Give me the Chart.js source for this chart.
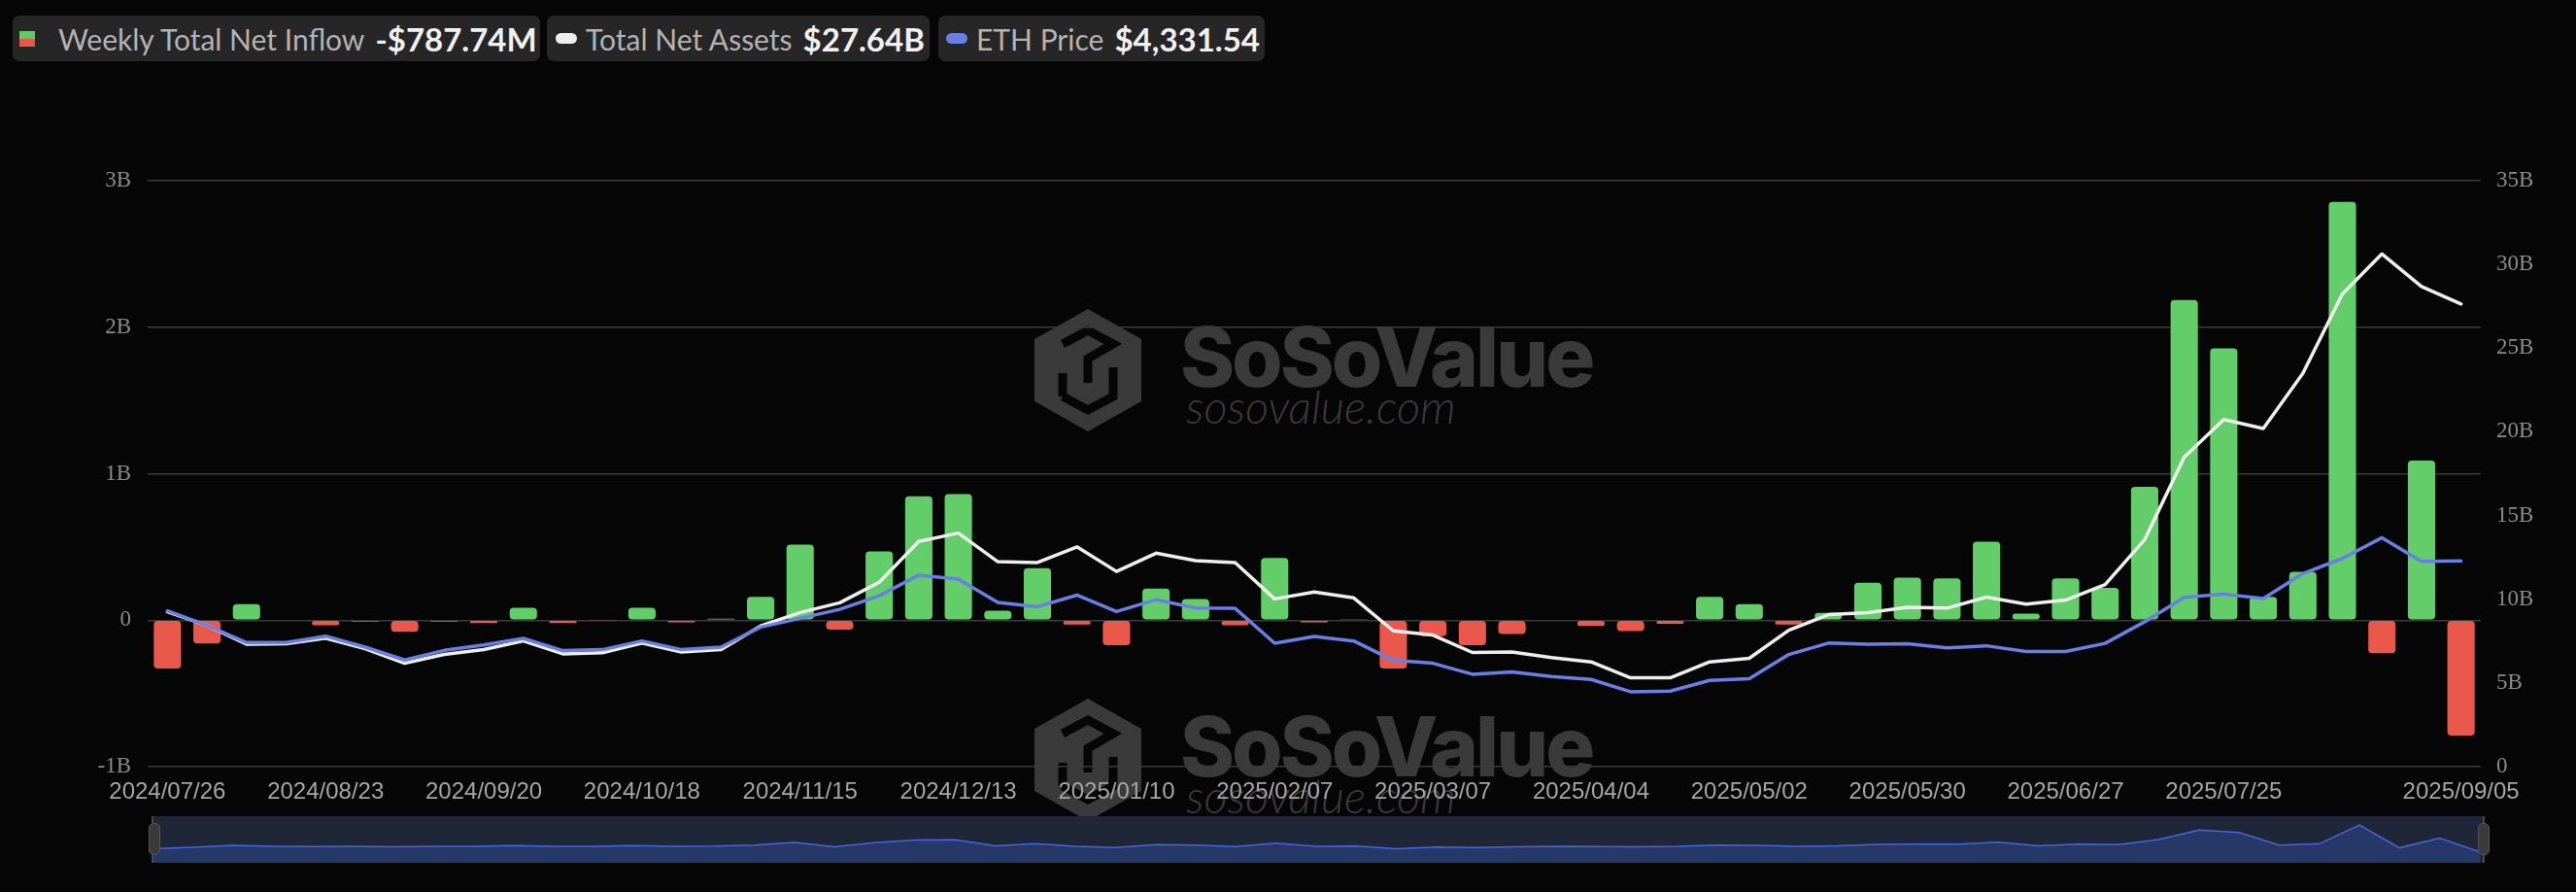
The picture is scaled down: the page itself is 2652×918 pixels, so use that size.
<!DOCTYPE html>
<html><head><meta charset="utf-8">
<script src="https://cdn.jsdelivr.net/npm/chart.js@4.4.1/dist/chart.umd.min.js"></script>
<style>
html,body{margin:0;padding:0;background:#060606;width:2652px;height:918px;overflow:hidden;}
#wrap{position:relative;width:2652px;height:918px;}
.lg{position:absolute;top:16px;height:47px;background:#262626;border-radius:7px;display:flex;align-items:center;font-family:Lato,sans-serif;white-space:nowrap;box-sizing:border-box;}
.lg .t{color:#b3b3b3;font-size:30px;}
.lg .v{color:#f0f0f0;font-size:33px;font-weight:700;margin-left:11px;}
.ico2{width:16px;height:16px;margin-right:24px;background:linear-gradient(#62c968 0 50%,#e8584a 50% 100%);}
.pill{width:22px;height:11px;border-radius:6px;margin-right:9px;}
.wm{position:absolute;z-index:0;color:#3a3a3a;white-space:nowrap;}
.wm1{font-family:Inter,'Open Sans',sans-serif;font-weight:800;font-size:85px;letter-spacing:-3px;line-height:1;}
.wm2{font-family:Lato,sans-serif;font-style:italic;font-weight:300;font-size:47px;line-height:1;}
canvas{position:absolute;z-index:1;}
#navbg{position:absolute;left:157px;top:840px;width:2401px;height:48px;background:#1f2638;z-index:0;}
.hbar{position:absolute;top:840px;width:2px;height:48px;background:#4a4a4a;z-index:2;}
.hnd{position:absolute;top:847px;width:12px;height:33px;background:#3a3a3a;border:1px solid #555;border-radius:5px;z-index:3;box-sizing:border-box;}
</style>
</head>
<body>
<div id="wrap">
  <div class="lg" style="left:13px;width:543px;padding-left:7px;"><div class="ico2"></div><span class="t">Weekly Total Net Inflow</span><span class="v">-$787.74M</span></div>
  <div class="lg" style="left:563px;width:394px;padding-left:9px;"><div class="pill" style="background:#eeeeee"></div><span class="t">Total Net Assets</span><span class="v">$27.64B</span></div>
  <div class="lg" style="left:966px;width:336px;padding-left:8px;"><div class="pill" style="background:#6b7fe3"></div><span class="t">ETH Price</span><span class="v">$4,331.54</span></div>

  <svg class="wm" style="left:1060px;top:314px;" width="120" height="134" viewBox="0 0 120 134">
    <polygon points="60,4 115,35 115,99 60,130 5,99 5,35" fill="#3a3a3a"/>
    <polyline points="34,40 60,26 86,40 60,55 60,80" fill="none" stroke="#060606" stroke-width="9"/>
    <polyline points="34,94 60,108 86,94 86,64" fill="none" stroke="#060606" stroke-width="9"/>
    <polyline points="34,70 34,94" fill="none" stroke="#060606" stroke-width="9"/>
  </svg>
  <div class="wm wm1" style="left:1215px;top:325px;">SoSoValue</div>
  <div class="wm wm2" style="left:1221px;top:395px;">sosovalue.com</div>

  <svg class="wm" style="left:1060px;top:715px;" width="120" height="134" viewBox="0 0 120 134">
    <polygon points="60,4 115,35 115,99 60,130 5,99 5,35" fill="#3a3a3a"/>
    <polyline points="34,40 60,26 86,40 60,55 60,80" fill="none" stroke="#060606" stroke-width="9"/>
    <polyline points="34,94 60,108 86,94 86,64" fill="none" stroke="#060606" stroke-width="9"/>
    <polyline points="34,70 34,94" fill="none" stroke="#060606" stroke-width="9"/>
  </svg>
  <div class="wm wm1" style="left:1215px;top:726px;">SoSoValue</div>
  <div class="wm wm2" style="left:1221px;top:796px;">sosovalue.com</div>

  <canvas id="main" width="2652" height="840" style="left:0;top:0;"></canvas>
  <div id="navbg"></div>
  <canvas id="nav" width="2396" height="48" style="left:157px;top:840px;"></canvas>
  <div class="hbar" style="left:156px;"></div>
  <div class="hbar" style="left:2556px;"></div>
  <div class="hnd" style="left:153px;"></div>
  <div class="hnd" style="left:2551px;"></div>
</div>
<script>
const categories = [
 '2024/07/26','2024/08/02','2024/08/09','2024/08/16','2024/08/23','2024/08/30','2024/09/06','2024/09/13','2024/09/20','2024/09/27',
 '2024/10/04','2024/10/11','2024/10/18','2024/10/25','2024/11/01','2024/11/08','2024/11/15','2024/11/22','2024/11/29','2024/12/06',
 '2024/12/13','2024/12/20','2024/12/27','2025/01/03','2025/01/10','2025/01/17','2025/01/24','2025/01/31','2025/02/07','2025/02/14',
 '2025/02/21','2025/02/28','2025/03/07','2025/03/14','2025/03/21','2025/03/28','2025/04/04','2025/04/11','2025/04/18','2025/04/25',
 '2025/05/02','2025/05/09','2025/05/16','2025/05/23','2025/05/30','2025/06/06','2025/06/13','2025/06/20','2025/06/27','2025/07/04',
 '2025/07/11','2025/07/18','2025/07/25','2025/08/01','2025/08/08','2025/08/15','2025/08/22','2025/08/29','2025/09/05'
];
const tickLabels = ['2024/07/26','2024/08/23','2024/09/20','2024/10/18','2024/11/15','2024/12/13','2025/01/10','2025/02/07',
 '2025/03/07','2025/04/04','2025/05/02','2025/05/30','2025/06/27','2025/07/25','2025/09/05'];
// Weekly total net inflow, billions USD
const weeklyNetInflow = [
 -0.33,-0.16,0.11,-0.005,-0.035,-0.01,-0.08,-0.01,-0.02,0.085,
 -0.02,-0.004,0.085,-0.015,0.01,0.16,0.515,-0.065,0.47,0.845,
 0.86,0.065,0.355,-0.03,-0.17,0.215,0.145,-0.035,0.425,-0.015,
 0.003,-0.33,-0.11,-0.17,-0.095,-0.005,-0.04,-0.075,-0.025,0.16,
 0.11,-0.03,0.05,0.255,0.29,0.285,0.535,0.045,0.285,0.22,
 0.91,2.185,1.855,0.16,0.33,2.855,-0.225,1.09,-0.78774
];
// Total net assets, billions USD
const totalNetAssets = [
 9.25,8.44,7.32,7.34,7.67,7.05,6.18,6.70,6.99,7.51,
 6.74,6.80,7.38,6.85,6.99,8.40,9.21,9.79,11.01,13.45,
 13.95,12.24,12.19,13.13,11.66,12.75,12.30,12.19,10.02,10.43,
 10.08,8.11,7.86,6.82,6.85,6.51,6.26,5.31,5.31,6.26,
 6.47,8.15,9.08,9.20,9.52,9.47,10.13,9.71,9.95,10.88,
 13.56,18.49,20.74,20.20,23.49,28.24,30.63,28.68,27.64
];
// ETH price, USD
const ethPrice = [
 3278,2971,2611,2611,2747,2515,2244,2447,2563,2699,
 2441,2462,2645,2462,2515,2937,3121,3310,3596,4030,
 3945,3455,3365,3610,3263,3515,3339,3331,2597,2740,
 2645,2237,2176,1944,1992,1897,1836,1577,1591,1815,
 1850,2360,2600,2578,2586,2500,2543,2423,2423,2594,
 3049,3565,3632,3539,4063,4381,4817,4320,4331.54
];
const flowTicks = [-1,0,1,2,3];
const assetTicks = [0,5,10,15,20,25,30,35];

const GREEN = '#63cd69', RED = '#e9584a';
const axisFont = {family:'Liberation Serif', size:23};

new Chart(document.getElementById('main'), {
  data: {
    labels: categories,
    datasets: [
      {type:'line', label:'ETH Price', data:ethPrice, yAxisID:'yEth', borderColor:'#6a7fe4', borderWidth:3.5,
       pointRadius:0, tension:0, order:0, borderJoinStyle:'round', borderCapStyle:'round'},
      {type:'line', label:'Total Net Assets', data:totalNetAssets, yAxisID:'yAssets', borderColor:'#eeeeee', borderWidth:3.5,
       pointRadius:0, tension:0, order:1, borderJoinStyle:'round', borderCapStyle:'round'},
      {type:'bar', label:'Weekly Total Net Inflow', data:weeklyNetInflow, yAxisID:'yFlow',
       backgroundColor: c => (c.raw >= 0 ? GREEN : RED), borderRadius:4, borderSkipped:false,
       barPercentage:0.69, categoryPercentage:1, order:2}
    ]
  },
  options: {
    responsive:false, animation:false, devicePixelRatio:1,
    layout:{padding:{top:186,left:0,right:0,bottom:0}},
    plugins:{legend:{display:false}, tooltip:{enabled:false}},
    scales:{
      x:{offset:true, grid:{display:false, drawTicks:false}, border:{display:false},
         ticks:{autoSkip:false, maxRotation:0, minRotation:0, color:'#a5a5a5', padding:12,
                font:{family:'Liberation Sans', size:24},
                callback:(v,i)=> tickLabels.includes(categories[i]) ? categories[i] : ''},
         afterFit:s=>{s.height=51;}},
      yFlow:{position:'left', min:flowTicks[0], max:flowTicks[flowTicks.length-1],
         afterBuildTicks:s=>{s.ticks=flowTicks.map(v=>({value:v}));},
         ticks:{color:'#8b8b8b', font:axisFont, padding:17, callback:v=> v===0?'0':v+'B'},
         grid:{color:'#3b3b3b', lineWidth:1.5, drawTicks:false}, border:{display:false},
         afterFit:s=>{s.width=152;}},
      yAssets:{position:'right', min:assetTicks[0], max:assetTicks[assetTicks.length-1],
         afterBuildTicks:s=>{s.ticks=assetTicks.map(v=>({value:v}));},
         ticks:{color:'#8b8b8b', font:axisFont, padding:16, callback:v=> v===0?'0':v+'B'},
         grid:{display:false, drawTicks:false}, border:{display:false},
         afterFit:s=>{s.width=98;}},
      yEth:{display:false, min:0, max:12330}
    }
  }
});

new Chart(document.getElementById('nav'), {
  type:'line',
  data:{labels:categories, datasets:[{data:weeklyNetInflow, borderColor:'#4767d8', borderWidth:1.5,
        backgroundColor:'#253868', fill:'start', pointRadius:0, tension:0}]},
  options:{responsive:false, animation:false, devicePixelRatio:1, layout:{padding:0},
    plugins:{legend:{display:false}, tooltip:{enabled:false}},
    scales:{x:{display:false, offset:false}, y:{display:false, min:-2.24, max:4.04}}}
});
</script>
</body></html>
